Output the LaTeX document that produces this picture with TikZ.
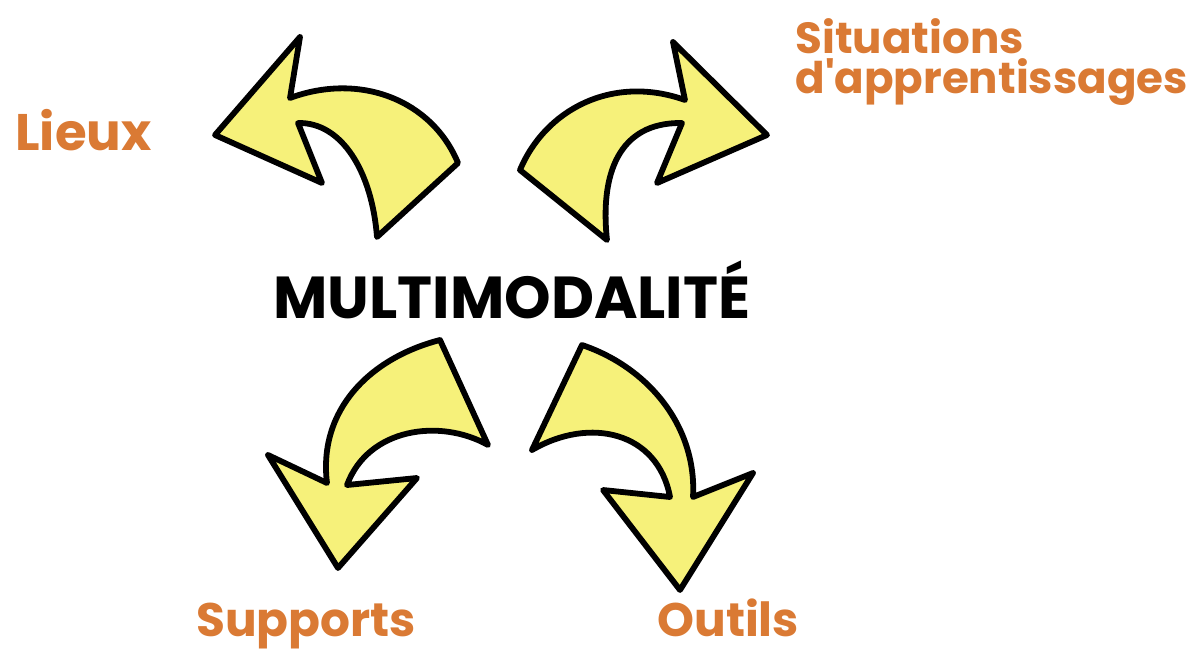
\documentclass[tikz,border=0pt]{standalone}
\usepackage{fontspec}
\setmainfont{Poppins}
\definecolor{labelorange}{RGB}{218,122,52}
\definecolor{arrowyellow}{RGB}{246,241,122}
\begin{document}
\begin{tikzpicture}[x=0.5pt,y=-0.5pt,line join=round,
		bigarrow/.style={draw=black,fill=arrowyellow,line width=2.9pt},
		label/.style={anchor=base west,inner sep=0pt,text=labelorange,font=\bfseries}]
	\useasboundingbox (0,0) rectangle (1196,655);
	% top left
	\draw[bigarrow] (215,135)--(300,37)--(290,98) .. controls (360,72) and (432,100) .. (458,163)
		--(377,237) .. controls (372,172) and (342,122) .. (298,123)--(322,183)--cycle;
	% top right
	\draw[bigarrow] (767,135)--(673,42)--(685,100) .. controls (612,74) and (545,110) .. (520,170)
		--(607,240) .. controls (600,175) and (618,122) .. (682,123)--(657,183)--cycle;
	% bottom left
	\draw[bigarrow] (338,568)--(268,455)--(327,483) .. controls (318,410) and (370,358) .. (440,340)
		--(488,445) .. controls (440,418) and (368,428) .. (347,485)--(417,478)--cycle;
	% bottom right
	\draw[bigarrow] (680,590)--(753,473)--(693,497) .. controls (697,428) and (650,368) .. (582,345)
		--(532,450) .. controls (590,416) and (658,432) .. (670,497)--(603,490)--cycle;
	\node[anchor=base west,inner sep=0pt,font=\bfseries\fontsize{29.6}{35}\selectfont] (multi) at (273,318) {MULTIMODALITÉ};
	\node[label,font=\bfseries\fontsize{25.7}{30}\selectfont] (lieux) at (15,150) {Lieux};
	\node[label,font=\bfseries\fontsize{21.8}{26}\selectfont] (situations) at (795,53) {Situations};
	\node[label,font=\bfseries\fontsize{21.8}{26}\selectfont] (apprentissages) at (795,93) {d\textquotesingle apprentissages};
	\node[label,font=\bfseries\fontsize{23.5}{28}\selectfont] (supports) at (196,636) {Supports};
	\node[label,font=\bfseries\fontsize{23.5}{28}\selectfont] (outils) at (657,636) {Outils};
\end{tikzpicture}
\end{document}
